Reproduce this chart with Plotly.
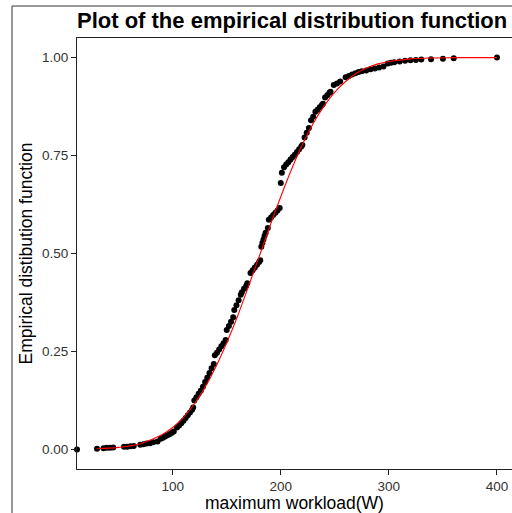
import plotly.graph_objects as go

# ---- data ----
workload = [30, 36, 39, 42, 45, 55, 58, 61, 64, 70, 73, 76, 79, 82, 86,
            89, 91, 93, 95, 97, 99, 101, 104, 106, 108, 110, 112, 114, 116, 118, 119,
            120, 122, 124, 126, 128, 130, 132, 134, 136, 138,
            139, 141, 143, 145, 147, 149, 150, 152, 154, 156,
            157, 159, 161, 163, 164, 166, 168, 169,
            172, 174, 176, 178, 180, 181, 182, 183, 184, 185, 186, 188,
            189, 191, 193, 195, 197, 199, 200, 201,
            203, 205, 207, 209, 211, 213, 215, 217, 219, 220,
            222, 224, 226, 228, 230, 232, 234, 236, 238, 239,
            241, 243, 245, 246, 249, 252, 255, 260, 263, 266, 269, 272,
            275, 279, 283, 287, 291, 295, 299, 302, 305, 310, 315, 320, 325, 330, 339,
            350, 360, 400]
ecdf = [0.002, 0.003, 0.004, 0.004, 0.005, 0.007, 0.007, 0.008, 0.009, 0.012, 0.013, 0.015, 0.016, 0.018, 0.020,
        0.027, 0.030, 0.033, 0.036, 0.039, 0.042, 0.046, 0.056, 0.061, 0.067, 0.073, 0.080, 0.087, 0.094, 0.101, 0.107,
        0.125, 0.133, 0.142, 0.150, 0.160, 0.172, 0.183, 0.195, 0.207, 0.218,
        0.240, 0.247, 0.255, 0.263, 0.271, 0.279, 0.305, 0.315, 0.326, 0.337,
        0.356, 0.368, 0.381, 0.395, 0.401, 0.410, 0.418, 0.424,
        0.450, 0.457, 0.464, 0.471, 0.478, 0.483, 0.517, 0.527, 0.536, 0.545, 0.553, 0.565,
        0.586, 0.592, 0.598, 0.604, 0.610, 0.616, 0.680, 0.706,
        0.720, 0.727, 0.733, 0.740, 0.746, 0.752, 0.759, 0.766, 0.773, 0.777,
        0.796, 0.808, 0.820, 0.840, 0.849, 0.862, 0.867, 0.873, 0.879, 0.882,
        0.898, 0.904, 0.910, 0.913, 0.930, 0.934, 0.939, 0.950, 0.953, 0.957, 0.960, 0.963,
        0.965, 0.967, 0.970, 0.972, 0.975, 0.977, 0.985, 0.987, 0.988, 0.990, 0.992, 0.993, 0.994, 0.995, 0.996,
        0.997, 0.998, 1.000]

fit_x = [30, 50, 70, 90, 100, 110, 120, 130, 140, 150, 160, 170, 180, 190, 200,
         210, 220, 230, 240, 250, 260, 270, 280, 290, 300, 320, 340, 360, 400]
fit_p = [0.0015, 0.0051, 0.0146, 0.0375, 0.056, 0.082, 0.116, 0.159, 0.211, 0.272, 0.340, 0.415,
         0.492, 0.570, 0.645, 0.715, 0.778, 0.832, 0.876, 0.912, 0.939, 0.960, 0.974, 0.984,
         0.990, 0.9968, 0.9991, 0.9998, 1.0]

x_ticks = [100, 200, 300, 400]
y_ticks = [0, 0.25, 0.5, 0.75, 1.0]
y_tick_text = ["0.00", "0.25", "0.50", "0.75", "1.00"]

X_RANGE = [11.5, 413.9]
Y_RANGE = [-0.05, 1.05]

FONT = "Liberation Sans, Arial, sans-serif"

fig = go.Figure()
fig.add_trace(go.Scatter(x=workload, y=ecdf, mode="markers",
                         marker=dict(color="black", size=6, line=dict(width=0)),
                         showlegend=False))
# ECDF pad point at -Inf
fig.add_trace(go.Scatter(x=[X_RANGE[0]], y=[ecdf[0] * 0], mode="markers",
                         marker=dict(color="black", size=6, line=dict(width=0)),
                         cliponaxis=False, showlegend=False))
fig.add_trace(go.Scatter(x=fit_x, y=fit_p, mode="lines",
                         line=dict(color="red", width=1.1, shape="spline"),
                         showlegend=False))

axis_common = dict(showgrid=False, zeroline=False, showline=True, linecolor="#222222",
                   linewidth=1.1, ticks="outside", ticklen=5, tickwidth=1.1,
                   tickcolor="#222222",
                   tickfont=dict(family=FONT, size=13.5, color="#333333"))

fig.update_xaxes(range=X_RANGE, tickvals=x_ticks, mirror=True,
                 title=dict(text="maximum workload(W)", standoff=3,
                            font=dict(family=FONT, size=17.5, color="black")),
                 **axis_common)
fig.update_yaxes(range=Y_RANGE, tickvals=y_ticks, ticktext=y_tick_text,
                 title=dict(text="Empirical distibution function", standoff=4,
                            font=dict(family=FONT, size=17.5, color="black")),
                 **axis_common)

# outer frame lines (partially visible border)
fig.add_shape(type="line", xref="paper", yref="paper", x0=-0.1494, x1=-0.1494,
              y0=1.0742, y1=-0.12, line=dict(color="#333333", width=1))
fig.add_shape(type="line", xref="paper", yref="paper", x0=-0.1494, x1=1.05,
              y0=1.0742, y1=1.0742, line=dict(color="#333333", width=1))

fig.update_layout(
    width=512, height=513, autosize=False,
    margin=dict(l=77, r=0, t=38, b=44),
    plot_bgcolor="white", paper_bgcolor="white",
    title=dict(text="Plot of the empirical distribution function",
               x=0, xref="paper", xanchor="left",
               y=1 - 20 / 513, yref="container", yanchor="middle",
               font=dict(family=FONT, size=22, color="black", weight="bold")),
)

fig.write_html("out.html")
